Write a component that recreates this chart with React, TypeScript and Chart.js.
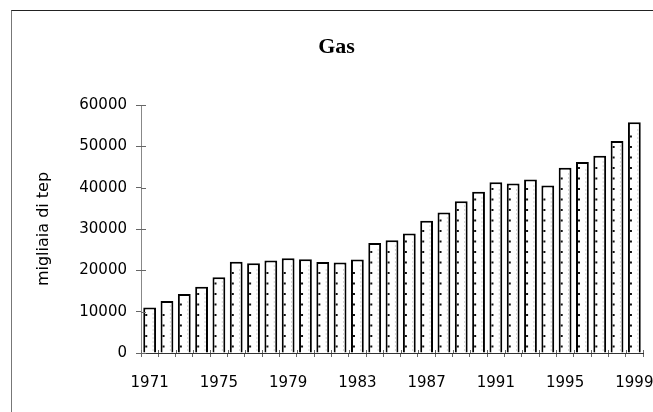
import React, { useEffect, useRef } from 'react';
import { Chart, registerables } from 'chart.js';

Chart.register(...registerables);

const years = [
  '1971', '1972', '1973', '1974', '1975', '1976', '1977', '1978', '1979', '1980',
  '1981', '1982', '1983', '1984', '1985', '1986', '1987', '1988', '1989', '1990',
  '1991', '1992', '1993', '1994', '1995', '1996', '1997', '1998', '1999',
];
const gasValues = [
  11000, 12600, 14300, 16000, 18300, 22100, 21700, 22400, 22900, 22700,
  22000, 21900, 22600, 26600, 27300, 28900, 32000, 34000, 36700, 39000,
  41300, 41000, 42000, 40500, 44800, 46200, 47700, 51300, 55800,
];
const yMin = 0;
const yMax = 60000;
const yStep = 10000;
const xLabelEvery = 4;
const chartTitle = 'Gas';
const yTitle = 'migliaia di tep';

const tickFont = { family: '"DejaVu Sans", "Liberation Sans", Arial, sans-serif', size: 15 };

export default function App() {
  const ref = useRef<HTMLCanvasElement>(null);

  useEffect(() => {
    if (!ref.current) return;

    const inwardTicks = {
      id: 'inwardTicks',
      afterDraw(chart: any) {
        const ctx = chart.ctx;
        const xs = chart.scales.x;
        const ys = chart.scales.y;
        ctx.save();
        ctx.strokeStyle = '#666';
        ctx.lineWidth = 1;
        ctx.beginPath();
        ys.ticks.forEach((_t: any, i: number) => {
          const y = Math.round(ys.getPixelForTick(i)) + 0.5;
          ctx.moveTo(ys.right, y);
          ctx.lineTo(ys.right + 5, y);
        });
        for (let i = 0; i <= years.length; i++) {
          const x = Math.round(xs.getPixelForValue(i - 0.5)) + 0.5;
          ctx.moveTo(x, xs.top);
          ctx.lineTo(x, xs.top - 3);
        }
        ctx.stroke();
        ctx.restore();
      },
    };

    const barDots = {
      id: 'barDots',
      afterDatasetsDraw(chart: any) {
        const ctx = chart.ctx;
        const meta = chart.getDatasetMeta(0);
        ctx.save();
        meta.data.forEach((el: any) => {
          const left = el.x - el.width / 2;
          const right = el.x + el.width / 2;
          ctx.fillStyle = '#111';
          for (let y = el.base - 6; y > el.y + 5; y -= 10.5) {
            ctx.fillRect(left + 2, y - 1, 2, 2);
          }
          ctx.fillStyle = '#aaa';
          for (let y = el.base - 3; y > el.y + 4; y -= 4) {
            ctx.fillRect(right - 3.5, y, 1, 1);
          }
        });
        ctx.restore();
      },
    };

    const chart = new Chart(ref.current, {
      type: 'bar',
      data: {
        labels: years,
        datasets: [
          {
            data: gasValues,
            backgroundColor: '#ffffff',
            borderColor: '#000000',
            borderWidth: 2,
            barPercentage: 0.74,
            categoryPercentage: 1,
          },
        ],
      },
      options: {
        animation: false,
        responsive: false,
        layout: { padding: { left: 18, right: 10, top: 0, bottom: 0 } },
        plugins: {
          legend: { display: false },
          tooltip: { enabled: false },
          title: {
            display: true,
            text: chartTitle,
            color: '#000',
            font: { family: '"Liberation Serif", "Times New Roman", serif', size: 22, weight: 'bold' },
            padding: { top: 23, bottom: 44.6 },
          },
        },
        scales: {
          x: {
            type: 'category',
            offset: true,
            grid: {
              display: true,
              offset: true,
              drawOnChartArea: false,
              drawTicks: true,
              tickLength: 4,
              color: '#666',
            },
            border: { display: true, color: '#333', width: 1 },
            ticks: {
              autoSkip: false,
              maxRotation: 0,
              minRotation: 0,
              padding: 17,
              color: '#000',
              font: tickFont,
              callback: (_v: any, i: number) => (i % xLabelEvery === 0 ? years[i] : ''),
            },
            afterFit: (s: any) => {
              s.height = 59;
              s.paddingLeft = 0;
              s.paddingRight = 0;
            },
          },
          y: {
            min: yMin,
            max: yMax,
            ticks: {
              stepSize: yStep,
              padding: 9,
              color: '#000',
              font: tickFont,
              callback: (v: any) => String(v),
            },
            grid: { drawOnChartArea: false, drawTicks: true, tickLength: 5, color: '#666' },
            border: { display: true, color: '#888', width: 1 },
            title: {
              display: true,
              text: yTitle,
              color: '#000',
              font: { family: '"DejaVu Sans", "Liberation Sans", Arial, sans-serif', size: 16 },
              padding: { top: 4, bottom: 0 },
            },
            afterFit: (s: any) => {
              s.width = 111;
            },
          },
        },
      },
      plugins: [inwardTicks, barDots],
    } as any);

    return () => chart.destroy();
  }, []);

  return (
    <div
      style={{
        position: 'absolute',
        left: 11,
        top: 10,
        width: 642,
        height: 402,
        borderTop: '1px solid #222',
        borderLeft: '1px solid #777',
        boxSizing: 'border-box',
        background: '#fff',
      }}
    >
      <canvas ref={ref} width={641} height={401} style={{ display: 'block' }} />
    </div>
  );
}
